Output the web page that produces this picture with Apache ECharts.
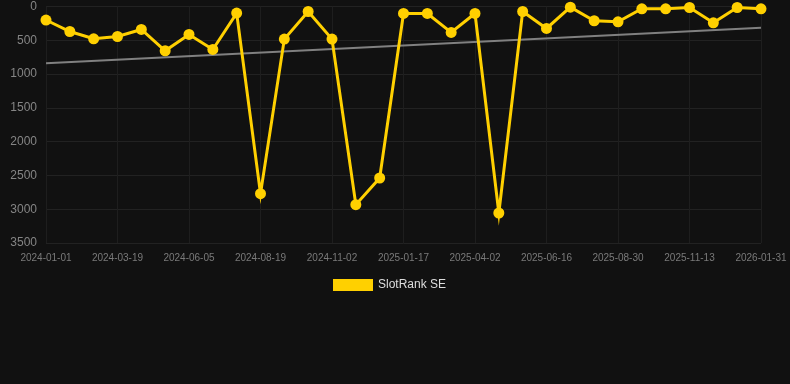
<!DOCTYPE html>
<html>
<head>
<meta charset="utf-8">
<script src="https://cdn.jsdelivr.net/npm/echarts@6/dist/echarts.min.js"></script>
<style>
html,body{margin:0;padding:0;background:#111111;}
#chart{width:790px;height:384px;}
</style>
</head>
<body>
<div id="chart"></div>
<script>
var categories = [
  '2024-01-01','2024-01-27','2024-02-22','2024-03-19','2024-04-14','2024-05-10',
  '2024-06-05','2024-06-30','2024-07-25','2024-08-19','2024-09-13','2024-10-08',
  '2024-11-02','2024-11-27','2024-12-23','2025-01-17','2025-02-11','2025-03-08',
  '2025-04-02','2025-04-27','2025-05-22','2025-06-16','2025-07-11','2025-08-05',
  '2025-08-30','2025-09-24','2025-10-19','2025-11-13','2025-12-08','2026-01-05',
  '2026-01-31'
];
var rankValues = [
  200, 370, 478, 444, 340, 655,
  414, 636, 98, 2770, 482, 74,
  482, 2933, 2538, 103, 103, 384,
  103, 3056, 74, 325, 10, 211,
  226, 34, 34, 15, 241, 15,
  34
];
var trendStart = 840;
var trendEnd = 315;
var yTicks = [0, 500, 1000, 1500, 2000, 2500, 3000, 3500];

var chart = echarts.init(document.getElementById('chart'), null, {renderer: 'canvas'});
chart.setOption({
  backgroundColor: '#111111',
  animation: false,
  grid: {left: 46, right: 29, top: 6.5, bottom: 141, containLabel: false},
  legend: {
    data: ['SlotRank SE'],
    top: 274,
    left: 328,
    itemWidth: 40,
    itemHeight: 12,
    itemGap: 10,
    icon: 'rect',
    textStyle: {color: '#dddddd', fontSize: 12, fontFamily: 'Liberation Sans, Arial, sans-serif'}
  },
  xAxis: {
    type: 'category',
    data: categories,
    boundaryGap: false,
    axisLine: {show: false},
    axisTick: {show: false},
    axisLabel: {interval: 2, color: '#7a7a7a', fontSize: 10, margin: 10, fontFamily: 'Liberation Sans, Arial, sans-serif'},
    splitLine: {show: true, interval: 2, lineStyle: {color: '#1e1e1e', width: 1}}
  },
  yAxis: {
    type: 'value',
    inverse: true,
    min: yTicks[0],
    max: yTicks[yTicks.length - 1],
    interval: 500,
    axisLine: {show: false},
    axisTick: {show: false},
    axisLabel: {color: '#858585', fontSize: 12, margin: 9, fontFamily: 'Liberation Sans, Arial, sans-serif',
      formatter: function (v) { return String(v); }},
    splitLine: {show: true, lineStyle: {color: '#222222', width: 1}}
  },
  series: [
    {
      name: 'Trend',
      type: 'line',
      data: [[categories[0], trendStart], [categories[categories.length - 1], trendEnd]],
      symbol: 'none',
      lineStyle: {color: '#808080', width: 2},
      z: 1,
      silent: true
    },
    {
      name: 'SlotRank SE',
      type: 'line',
      data: rankValues,
      symbol: 'circle',
      symbolSize: 11,
      itemStyle: {color: '#FFD000'},
      lineStyle: {color: '#FFD000', width: 3, join: 'miter'},
      z: 3
    }
  ]
});
</script>
</body>
</html>
